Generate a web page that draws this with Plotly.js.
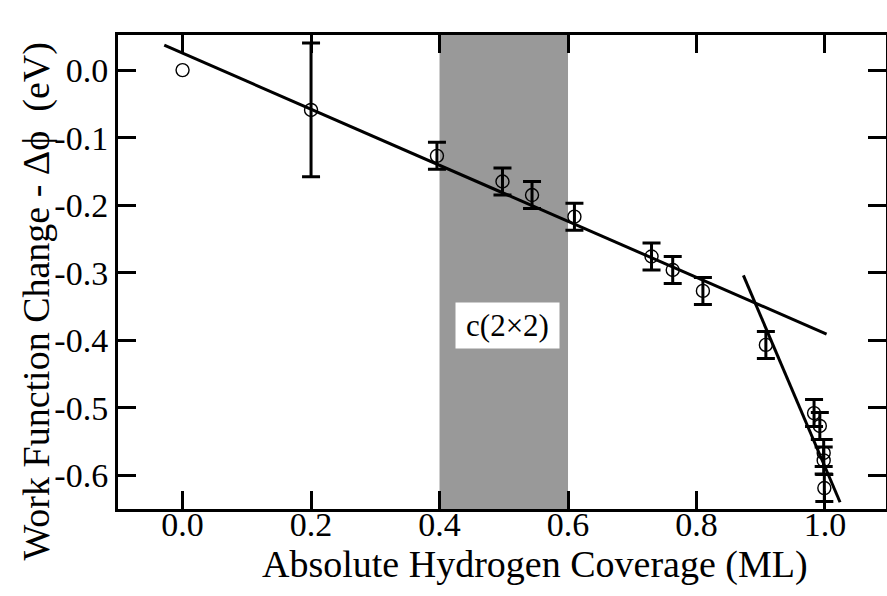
<!DOCTYPE html>
<html>
<head>
<meta charset="utf-8">
<script src="https://cdn.plot.ly/plotly-3.0.1.min.js"></script>
<style>html,body{margin:0;padding:0;background:#fff;}#chart{width:887px;height:596px;}</style>
</head>
<body>
<div id="chart"></div>
<script>
// Data
const coverage = [0.0, 0.2, 0.396, 0.498, 0.544, 0.610, 0.730, 0.763, 0.810, 0.908, 0.983, 0.992, 0.998, 0.998, 0.999];
const deltaPhi = [0.0, -0.059, -0.127, -0.165, -0.185, -0.217, -0.276, -0.296, -0.327, -0.407, -0.508, -0.527, -0.567, -0.578, -0.619];
const errPhi   = [0, 0.099, 0.02, 0.02, 0.02, 0.02, 0.02, 0.02, 0.02, 0.02, 0.02, 0.02, 0.02, 0.02, 0.02];

const fit1X = [-0.0285, 1.0025];
const fit1Y = [0.037, -0.391];
const fit2X = [0.873, 1.0235];
const fit2Y = [-0.304, -0.640];

const bandX = [0.4, 0.6];
const bandLabel = 'c(2×2)';

const xTicks = [0.0, 0.2, 0.4, 0.6, 0.8, 1.0];
const xTickText = ['0.0', '0.2', '0.4', '0.6', '0.8', '1.0'];
const yTicks = [0.0, -0.1, -0.2, -0.3, -0.4, -0.5, -0.6];
const yTickText = ['0.0', '-0.1', '-0.2', '-0.3', '-0.4', '-0.5', '-0.6'];

const xTitle = 'Absolute Hydrogen Coverage (ML)';
const yTitle = 'Work Function Change - Δϕ  (eV)';

const serif = 'Liberation Serif';

const withErr = errPhi.map(e => e > 0);
const pick = (arr, keep) => arr.filter((_, i) => withErr[i] === keep);

const marker = {symbol: 'circle-open', size: 13, color: '#000', line: {width: 1.4, color: '#000'}};

const traces = [
  {x: fit1X, y: fit1Y, mode: 'lines', line: {color: '#000', width: 3}, hoverinfo: 'skip', showlegend: false},
  {x: fit2X, y: fit2Y, mode: 'lines', line: {color: '#000', width: 3}, hoverinfo: 'skip', showlegend: false},
  {x: pick(coverage, true), y: pick(deltaPhi, true), mode: 'markers', showlegend: false, marker: marker,
   error_y: {type: 'data', array: pick(errPhi, true), visible: true, color: '#000', thickness: 3, width: 9}},
  {x: pick(coverage, false), y: pick(deltaPhi, false), mode: 'markers', showlegend: false, marker: marker}
];

const layout = {
  width: 887, height: 596,
  margin: {l: 118, r: 1, t: 35, b: 87},
  paper_bgcolor: '#fff', plot_bgcolor: '#fff',
  font: {family: serif, color: '#000', size: 34},
  shapes: [{type: 'rect', xref: 'x', yref: 'paper', x0: bandX[0], x1: bandX[1], y0: 0, y1: 1,
            fillcolor: '#999999', line: {width: 0}, layer: 'below'}],
  annotations: [
    {x: 0.506, y: -0.3785, xref: 'x', yref: 'y', text: bandLabel,
     showarrow: false, bgcolor: '#fff', font: {family: serif, size: 31, color: '#000'},
     width: 103, height: 45, borderpad: 0, align: 'center', valign: 'middle'},
    {x: 0.543, y: -0.118, xref: 'paper', yref: 'paper', text: xTitle, showarrow: false,
     xanchor: 'center', yanchor: 'middle', font: {family: serif, size: 38, color: '#000'}},
    {x: -0.106, y: 0.437, xref: 'paper', yref: 'paper', text: yTitle, showarrow: false, textangle: -90,
     xanchor: 'center', yanchor: 'middle', font: {family: serif, size: 38, color: '#000'}}
  ],
  xaxis: {
    range: [-0.1005, 1.095], tickvals: xTicks, ticktext: xTickText,
    ticks: 'inside', ticklen: 18, tickwidth: 3, tickcolor: '#000',
    showline: true, linewidth: 3, linecolor: '#000', mirror: 'ticks',
    showgrid: false, zeroline: false, ticklabelstandoff: -17,
    tickfont: {family: serif, size: 34, color: '#000'}
  },
  yaxis: {
    range: [-0.65, 0.052], tickvals: yTicks, ticktext: yTickText,
    ticks: 'inside', ticklen: 18, tickwidth: 3, tickcolor: '#000',
    showline: true, linewidth: 3, linecolor: '#000', mirror: 'ticks',
    showgrid: false, zeroline: false,
    tickfont: {family: serif, size: 34, color: '#000'}
  }
};

Plotly.newPlot('chart', traces, layout, {displayModeBar: false, staticPlot: true});
</script>
</body>
</html>
